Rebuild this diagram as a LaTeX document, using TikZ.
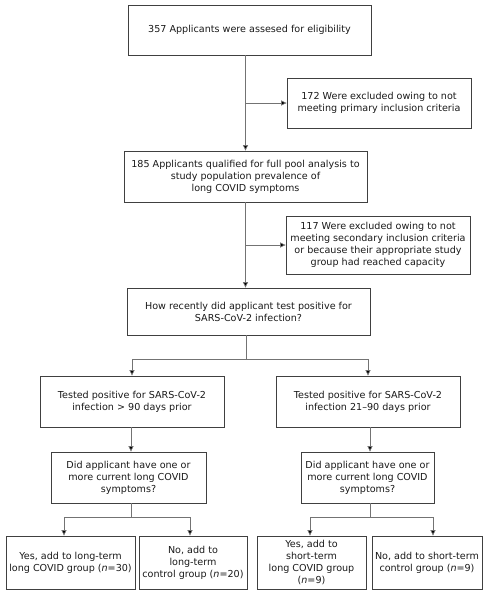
\documentclass[tikz,border=0pt]{standalone}
\usepackage{fontspec}
\setmainfont{DejaVu Sans}
\usetikzlibrary{arrows.meta}

\begin{document}
\begin{tikzpicture}[x=1pt,y=-1pt,
    box/.style={draw=black!75,line width=0.8pt,align=center,inner sep=0pt,
        font=\fontsize{9.6}{12}\selectfont,text=black!90},
    arr/.style={draw=black!55,line width=0.7pt,-{Triangle[length=5.5pt,width=5pt,fill=black]}},
    line/.style={draw=black!55,line width=0.7pt}]

    \useasboundingbox (0,0) rectangle (490,598);

    % these are the boxes
    \node[box,minimum width=243pt,minimum height=50pt] (start) at (249.5,30) {357 Applicants were assesed for eligibility};
    \node[box,minimum width=184pt,minimum height=50pt] (excl1) at (379,103) {172 Were excluded owing to not\\meeting primary inclusion criteria};
    \node[box,minimum width=243pt,minimum height=51pt] (full) at (245.5,176.5) {185 Applicants qualified for full pool analysis to\\study population prevalence of\\long COVID symptoms};
    \node[box,minimum width=184pt,minimum height=58pt] (excl2) at (378,245) {117 Were excluded owing to not\\meeting secondary inclusion criteria\\or because their appropriate study\\group had reached capacity};
    \node[box,minimum width=243pt,minimum height=47pt] (recent) at (248.5,311.5) {How recently did applicant test positive for\\SARS-CoV-2 infection?};
    \node[box,minimum width=184pt,minimum height=51pt] (older) at (132,401.5) {Tested positive for SARS-CoV-2\\infection > 90 days prior};
    \node[box,minimum width=184pt,minimum height=51pt] (newer) at (368,401.5) {Tested positive for SARS-CoV-2\\infection 21--90 days prior};
    \node[box,minimum width=155pt,minimum height=51pt] (qold) at (128.5,477.5) {Did applicant have one or\\more current long COVID\\symptoms?};
    \node[box,minimum width=133pt,minimum height=51pt] (qnew) at (367.5,477.5) {Did applicant have one or\\more current long COVID\\symptoms?};
    \node[box,minimum width=129pt,minimum height=53pt] (ltlong) at (70.5,562.5) {Yes, add to long-term\\long COVID group (\textit{n}=30)};
    \node[box,minimum width=108pt,minimum height=53pt] (ltctrl) at (193,562.5) {No, add to\\long-term\\control group (\textit{n}=20)};
    \node[box,minimum width=109pt,minimum height=53pt] (stlong) at (311.5,562.5) {Yes, add to\\short-term\\long COVID group\\(\textit{n}=9)};
    \node[box,minimum width=110pt,minimum height=53pt] (stctrl) at (427,562.5) {No, add to short-term\\control group (\textit{n}=9)};

    % split points
    \coordinate (b1) at (245.5,103);
    \coordinate (b2) at (245.5,245);
    \coordinate (s1) at (246,359);
    \coordinate (s2) at (131,517);
    \coordinate (s3) at (370,517);

    % these are the connectors
    \draw[arr] (start.south -| full) -- (full.north);
    \draw[arr] (b1) -- (excl1.west);
    \draw[arr] (full.south) -- (full.south |- recent.north);
    \draw[arr] (b2) -- (excl2.west);
    \draw[line] (recent.south -| s1) -- (s1);
    \draw[arr] (s1) -| (older.north);
    \draw[arr] (s1) -| (newer.north);
    \draw[arr] ([xshift=-1pt]older.south) -- ([xshift=-1pt]older.south |- qold.north);
    \draw[arr] ([xshift=2pt]newer.south) -- ([xshift=2pt]newer.south |- qnew.north);
    \draw[line] (qold.south -| s2) -- (s2);
    \draw[arr] (s2) -| ([xshift=-6.5pt]ltlong.north);
    \draw[arr] (s2) -| ([xshift=-3pt]ltctrl.north);
    \draw[line] (qnew.south -| s3) -- (s3);
    \draw[arr] (s3) -| ([xshift=-1.5pt]stlong.north);
    \draw[arr] (s3) -| ([xshift=6pt]stctrl.north);

\end{tikzpicture}
\end{document}
